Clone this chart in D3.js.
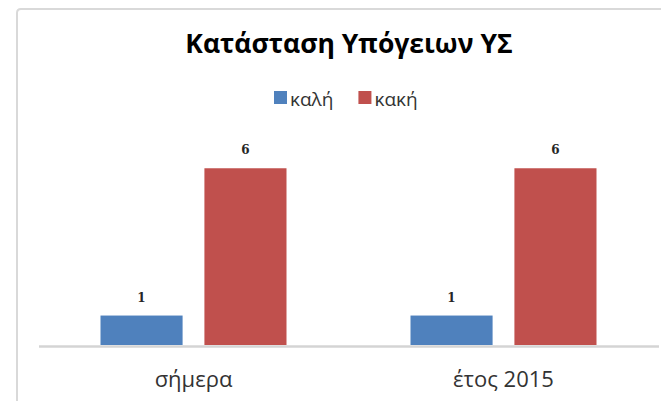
<!DOCTYPE html>
<html>
<head>
<meta charset="utf-8">
<script src="https://cdnjs.cloudflare.com/ajax/libs/d3/7.8.5/d3.min.js"></script>
<style>
  html, body { margin: 0; padding: 0; background: #fff; overflow: hidden; }
  svg { display: block; }
</style>
</head>
<body>
<svg id="canvas"></svg>
<script>
"use strict";

const categories = ["σήμερα", "έτος 2015"];
const seriesNames = ["καλή", "κακή"];
const kali = [1, 1];
const kaki = [6, 6];
const seriesColors = ["#4f81bd", "#c0504d"];
const title = "Κατάσταση Υπόγειων ΥΣ";

const width = 661;
const height = 401;
const plotLeft = 38.5;
const plotRight = 658.5;
const plotTop = 138.8;
const plotBottom = 345;

const canvas = d3.select("#canvas").attr("width", width).attr("height", height);

// chart area frame: only left and top edges are inside the picture
canvas
  .append("path")
  .attr("d", `M17,${height + 5}V13Q17,9 21,9H${width + 5}`)
  .attr("fill", "none")
  .attr("stroke", "#d9d9d9")
  .attr("stroke-width", 2);

canvas
  .append("text")
  .attr("x", 349)
  .attr("y", 53)
  .attr("text-anchor", "middle")
  .attr("font-family", "'Open Sans', sans-serif")
  .attr("font-weight", "bold")
  .attr("font-size", 26.5)
  .attr("fill", "#000")
  .text(title);

const rows = categories.map((c, i) => ({ category: c, values: [kali[i], kaki[i]] }));

const x0 = d3.scaleBand().domain(categories).range([plotLeft, plotRight]).padding(0);
const x1 = d3
  .scaleBand()
  .domain(seriesNames)
  .range([62, x0.bandwidth() - 62])
  .paddingInner(0.21);
const yScale = d3.scaleLinear().domain([0, 7]).range([plotBottom, plotTop]);

const groups = canvas
  .selectAll("g.group")
  .data(rows)
  .enter()
  .append("g")
  .attr("class", "group")
  .attr("transform", (d) => `translate(${x0(d.category)},0)`);

groups
  .selectAll("rect")
  .data((d) => d.values.map((v, i) => ({ name: seriesNames[i], value: v, color: seriesColors[i] })))
  .enter()
  .append("rect")
  .attr("x", (d) => x1(d.name))
  .attr("y", (d) => yScale(d.value))
  .attr("width", x1.bandwidth())
  .attr("height", (d) => yScale(0) - yScale(d.value))
  .attr("fill", (d) => d.color);

groups
  .selectAll("text.label")
  .data((d) => d.values.map((v, i) => ({ name: seriesNames[i], value: v })))
  .enter()
  .append("text")
  .attr("class", "label")
  .attr("x", (d) => x1(d.name) + x1.bandwidth() / 2)
  .attr("y", (d) => yScale(d.value) - 14)
  .attr("text-anchor", "middle")
  .attr("font-family", "'DejaVu Serif', serif")
  .attr("font-weight", "bold")
  .attr("font-size", 12)
  .attr("fill", "#262626")
  .text((d) => d.value);

// category axis
const xAxis = d3.axisBottom(x0).tickSize(0).tickSizeOuter(0).tickPadding(25);
const axisG = canvas
  .append("g")
  .attr("transform", `translate(0,${yScale(0) + 1})`)
  .call(xAxis);
axisG.select(".domain").attr("stroke", "#d4d4d4").attr("stroke-width", 2.5);
axisG
  .selectAll("text")
  .attr("font-family", "'Open Sans', sans-serif")
  .attr("font-size", 22)
  .attr("fill", "#333");

// legend
const legend = canvas.append("g").attr("transform", "translate(274,91)");
let lx = 0;
seriesNames.forEach((name, i) => {
  legend
    .append("rect")
    .attr("x", lx)
    .attr("y", 0)
    .attr("width", 13)
    .attr("height", 13)
    .attr("fill", seriesColors[i]);
  const t = legend
    .append("text")
    .attr("x", lx + 16)
    .attr("y", 15)
    .attr("font-family", "'Open Sans', sans-serif")
    .attr("font-size", 19)
    .attr("fill", "#333")
    .text(name);
  lx += 16 + t.node().getComputedTextLength() + 25;
});
</script>
</body>
</html>
